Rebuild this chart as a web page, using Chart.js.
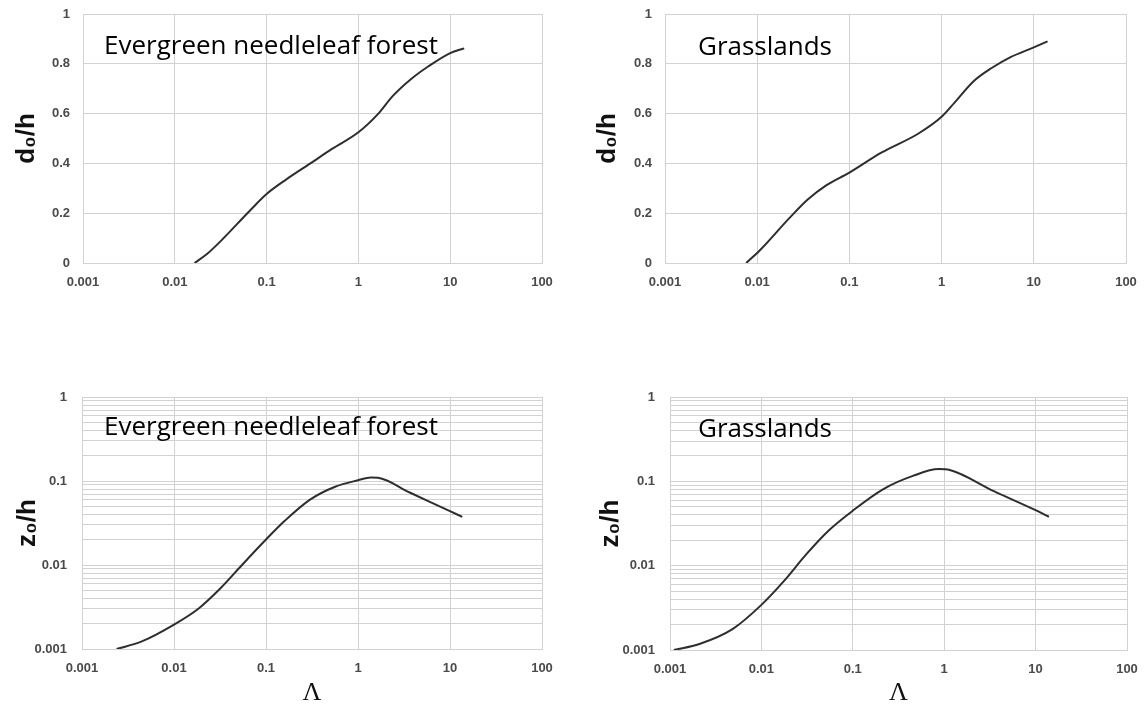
<!DOCTYPE html>
<html>
<head>
<meta charset="utf-8">
<script src="https://cdn.jsdelivr.net/npm/chart.js@4.4.0/dist/chart.umd.min.js"></script>
<style>
  body { margin: 0; background: #fff; width: 1146px; height: 711px; overflow: hidden; position: relative; }
  .box { position: absolute; width: 573px; }
  .lbl { position: absolute; font-family: "Open Sans", Lato, sans-serif; font-size: 26px; color: #000; line-height: 1; white-space: nowrap; }
</style>
</head>
<body>
<div class="box" style="left:0;top:0;height:355px"><canvas id="c1"></canvas></div>
<div class="box" style="left:573px;top:0;height:355px"><canvas id="c2"></canvas></div>
<div class="box" style="left:0;top:355px;height:356px"><canvas id="c3"></canvas></div>
<div class="box" style="left:573px;top:355px;height:356px"><canvas id="c4"></canvas></div>
<div class="lbl" style="left:104px;top:31px">Evergreen needleleaf forest</div>
<div class="lbl" style="left:698px;top:32px">Grasslands</div>
<div class="lbl" style="left:104px;top:412px">Evergreen needleleaf forest</div>
<div class="lbl" style="left:698px;top:414px">Grasslands</div>
<script>
// tick values
var xTicks = [0.001, 0.01, 0.1, 1, 10, 100];
var dTicks = [0, 0.2, 0.4, 0.6, 0.8, 1];
var zTicks = [0.001, 0.01, 0.1, 1];

// d0/h, evergreen needleleaf forest
var forestLamD = [0.0164, 0.0224, 0.032, 0.0656, 0.1, 0.16, 0.3, 0.515, 1.0, 1.65, 2.36, 3.7, 5.8, 10, 14.2];
var forestD = [0, 0.036, 0.09, 0.21, 0.277, 0.333, 0.4, 0.458, 0.525, 0.6, 0.67, 0.737, 0.79, 0.843, 0.862];

// d0/h, grasslands
var grassLamD = [0.0076, 0.0107, 0.0223, 0.0353, 0.056, 0.1, 0.222, 0.556, 1.0, 1.39, 2.21, 3.49, 5.53, 10, 14.1];
var grassD = [0, 0.051, 0.18, 0.255, 0.312, 0.363, 0.443, 0.519, 0.587, 0.645, 0.729, 0.783, 0.826, 0.866, 0.89];

// z0/h, evergreen needleleaf forest
var forestLamZ = [0.00238, 0.00447, 0.01, 0.0187, 0.032, 0.0548, 0.1, 0.161, 0.301, 0.564, 1.0, 1.38, 1.65, 3.7, 10, 13.6];
var forestZ = [0.001, 0.00123, 0.00195, 0.00306, 0.00528, 0.01, 0.0201, 0.0338, 0.06, 0.0855, 0.102, 0.11, 0.109, 0.0724, 0.0437, 0.0374];

// z0/h, grasslands
var grassLamZ = [0.0011, 0.0021, 0.00483, 0.01, 0.0177, 0.0309, 0.0538, 0.1, 0.216, 0.454, 0.869, 1.15, 3.49, 10, 14.0];
var grassZ = [0.001, 0.00118, 0.00177, 0.00343, 0.0066, 0.0136, 0.0258, 0.0449, 0.081, 0.116, 0.1396, 0.136, 0.0765, 0.0455, 0.038];

var gridCol = "#d2d2d2";
var tickCol = "#4a4a4a";
var tickFont = { family: "'Liberation Sans', Arial, sans-serif", size: 13, weight: "bold" };

// gridlines at 1..9 of every decade
function minorTicks(decades) {
  var out = [];
  for (var i = 0; i < decades.length - 1; i++) {
    for (var m = 1; m < 10; m++) out.push(decades[i] * m);
  }
  out.push(decades[decades.length - 1]);
  return out;
}

function drawPanel(canvasId, lam, vals, yLog, yTitle, showX, area, boxH, titlePad) {
  var points = [];
  for (var i = 0; i < lam.length; ++i) {
    points[i] = { x: lam[i], y: vals[i] };
  }
  var yScale;
  if (yLog) {
    yScale = {
      type: "logarithmic", min: 0.001, max: 1,
      afterBuildTicks: function (s) { s.ticks = minorTicks(zTicks).map(function (v) { return { value: v }; }); },
      ticks: { autoSkip: false, padding: 15, color: tickCol, font: tickFont,
        callback: function (v) { return zTicks.indexOf(v) >= 0 ? String(v) : ""; } }
    };
  } else {
    yScale = {
      type: "linear", min: 0, max: 1,
      afterBuildTicks: function (s) { s.ticks = dTicks.map(function (v) { return { value: v }; }); },
      ticks: { autoSkip: false, padding: 13, color: tickCol, font: tickFont,
        callback: function (v) { return String(v); } }
    };
  }
  // fix the axis box so the plot area lands where it should
  yScale.afterFit = function (s) {
    s.width = area.left;
    s.paddingTop = 0;
    s.paddingBottom = 0;
  };
  yScale.grid = { color: gridCol, drawTicks: false };
  yScale.border = { color: gridCol };
  yScale.title = { display: true, text: yTitle, color: "#111", padding: { top: titlePad, bottom: 0 },
    font: { family: "'Liberation Sans', Arial, 'DejaVu Sans', sans-serif", size: 26, weight: "bold" } };

  var ctx = document.getElementById(canvasId).getContext("2d");
  return new Chart(ctx, {
    type: "scatter",
    data: {
      datasets: [{
        data: points,
        showLine: true,
        borderColor: "#2e2e2e",
        borderWidth: 2,
        pointRadius: 0,
        cubicInterpolationMode: "monotone",
        fill: false
      }]
    },
    options: {
      responsive: true,
      maintainAspectRatio: false,
      animation: false,
      layout: { padding: { left: 0, top: area.top, right: 573 - area.right, bottom: 0 } },
      plugins: { legend: { display: false }, tooltip: { enabled: false } },
      scales: {
        x: {
          type: "logarithmic", min: 0.001, max: 100,
          afterBuildTicks: function (s) { s.ticks = xTicks.map(function (v) { return { value: v }; }); },
          afterFit: function (s) {
            s.height = boxH - area.bottom;
            s.paddingLeft = 0;
            s.paddingRight = 0;
          },
          grid: { color: gridCol, drawTicks: false },
          border: { color: gridCol },
          ticks: { autoSkip: false, maxRotation: 0, padding: 12, color: tickCol, font: tickFont,
            callback: function (v) { return String(v); } },
          title: { display: showX, text: "Λ", color: "#111", padding: { top: 0, bottom: 2 },
            font: { family: "'Liberation Serif', 'DejaVu Serif', serif", size: 26 } }
        },
        y: yScale
      }
    }
  });
}

drawPanel("c1", forestLamD, forestD, false, "d₀/h", false, { left: 83, right: 542, top: 14, bottom: 263 }, 355, 11);
drawPanel("c2", grassLamD, grassD, false, "d₀/h", false, { left: 92, right: 553, top: 14, bottom: 263 }, 355, 19);
drawPanel("c3", forestLamZ, forestZ, true, "z₀/h", true, { left: 82, right: 542, top: 42, bottom: 294 }, 356, 12);
drawPanel("c4", grassLamZ, grassZ, true, "z₀/h", true, { left: 97, right: 554, top: 42, bottom: 295 }, 356, 22);
</script>
</body>
</html>
